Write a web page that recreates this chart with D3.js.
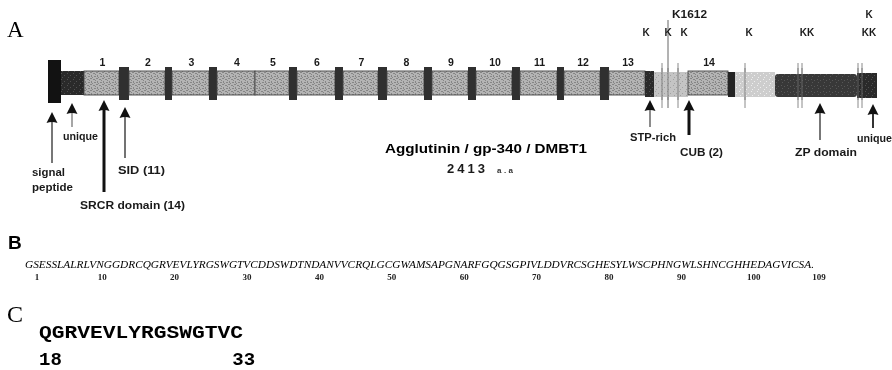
<!DOCTYPE html>
<html><head><meta charset="utf-8">
<script src="https://cdn.jsdelivr.net/npm/d3@7"></script>
<style>html,body{margin:0;background:#fff}svg{display:block;transform:translateZ(0)}</style>
</head><body>
<script>
// ---- Panel A: domain organisation along the drawn protein bar (track units) ----
const segTypes = ["signal","uniqueN","srcr","sid","srcr","sid","srcr","sid","srcr","srcr","sid",
  "srcr","sid","srcr","sid","srcr","sid","srcr","sid","srcr","sid","srcr","sid","srcr","sid","srcr",
  "stp","cub","srcr","linker","cub","zp","uniqueC"];
const segLengths = [13,23,35,10,36,7,37,8,38,34,8,38,8,35,9,37,8,36,8,36,8,37,7,36,9,36,
  9,34,40,7,40,82,20];

// Lysine sites (track units) and their labels
const siteLines = [614, 620, 630, 697, 750, 754, 810, 814];
const kLabelAt = [598, 620, 636, 701, 759, 821, 821];
const kLabelText = ["K","K","K","K","KK","KK","K"];
const namedSite = {at: 620, text: "K1612"};

// Arrow annotations under the bar
const arrowAt = [4, 24, 56, 77, 602, 641, 772, 825];
const arrowText = [["signal","peptide"],["unique"],["SRCR domain (14)"],["SID (11)"],
  ["STP-rich"],["CUB (2)"],["ZP domain"],["unique"]];

const proteinName = "Agglutinin / gp-340 / DMBT1";
const proteinLength = "2413";

// ---- Panel B: SRCR consensus sequence ----
const srcrSeq = "GSESSLALRLVNGGDRCQGRVEVLYRGSWGTVCDDSWDTNDANVVCRQLGCGWAMSAPGNARFGQGSGPIVLDDVRCSGHESYLWSCPHNGWLSHNCGHHEDAGVICSA.";
const seqTicks = [1,10,20,30,40,50,60,70,80,90,100,109];

// ---- Panel C: peptide ----
const peptide = "QGRVEVLYRGSWGTVC";
const peptideRange = [18, 33];

// ===== drawing =====
const W = 892, H = 370;
const svg = d3.select("body").append("svg").attr("width", W).attr("height", H)
  .style("font-family", "'Liberation Sans', Arial, sans-serif");

const defs = svg.append("defs");
function texture(id, base, dot, cells) {
  const p = defs.append("pattern").attr("id", id).attr("patternUnits", "userSpaceOnUse")
    .attr("width", 6).attr("height", 6);
  p.append("rect").attr("width", 6).attr("height", 6).attr("fill", base);
  cells.forEach(c => p.append("rect").attr("x", c[0]).attr("y", c[1])
    .attr("width", c[2]).attr("height", c[3]).attr("fill", dot));
}
texture("tSrcr", "#b4b4b4", "#868686", [[0,0,2,1],[3,1,2,1],[1,3,1,2],[4,4,2,1],[2,5,1,1],[5,2,1,1]]);
texture("tCub", "#c4c4c4", "#a2a2a2", [[1,1,1,1],[4,3,1,1],[2,5,1,1]]);
texture("tCub2", "#cdcdcd", "#eeeeee", [[1,1,1,1],[4,3,1,1],[2,5,1,1]]);
texture("tZp", "#383838", "#575757", [[1,1,1,1],[4,2,1,1],[2,4,1,1]]);
texture("tDark", "#2a2a2a", "#505050", [[1,1,1,1],[4,3,1,1],[2,5,1,1]]);

const segStart = d3.cumsum([0, ...segLengths]);
const total = segStart[segStart.length - 1];
const x = d3.scaleLinear().domain([0, total]).range([48, 877]);

const box = {signal:[60,103], uniqueN:[71,95], srcr:[71,95], sid:[67,100], stp:[71,97],
  cub:[72,97], linker:[72,97], zp:[74,97], uniqueC:[73,98]};
const fill = {signal:"#121212", uniqueN:"url(#tDark)", srcr:"url(#tSrcr)", sid:"#303030",
  stp:"url(#tDark)", cub:"url(#tCub)", linker:"#242424", zp:"url(#tZp)", uniqueC:"url(#tDark)"};

// panel letters
svg.append("text").attr("x", 7).attr("y", 37).attr("font-family", "'Liberation Serif', serif")
  .attr("font-size", 23).text("A");
svg.append("text").attr("x", 8).attr("y", 249).attr("font-weight", "bold")
  .attr("font-size", 19).text("B");
svg.append("text").attr("x", 7).attr("y", 322).attr("font-family", "'Liberation Serif', serif")
  .attr("font-size", 24).text("C");

const segs = segTypes.map((t, i) => ({type: t, a: segStart[i], b: segStart[i + 1], idx: i}));
let cubSeen = 0;
segs.forEach(s => { if (s.type === "cub") { s.alt = cubSeen++ > 0; } });

// lysine site lines behind the bar
svg.append("g").selectAll("line").data(siteLines).join("line")
  .attr("x1", d => x(d)).attr("x2", d => x(d))
  .attr("y1", d => d === namedSite.at ? 20 : 63).attr("y2", 108)
  .attr("stroke", d => d === namedSite.at ? "#666" : "#8a8a8a").attr("stroke-width", 1);

// protein bar
svg.append("g").selectAll("rect").data(segs).join("rect")
  .attr("x", d => x(d.a)).attr("width", d => x(d.b) - x(d.a))
  .attr("y", d => box[d.type][0]).attr("height", d => box[d.type][1] - box[d.type][0])
  .attr("rx", d => d.type === "zp" ? 3 : 0)
  .attr("fill", d => d.type === "cub" && d.alt ? "url(#tCub2)" : fill[d.type])
  .attr("stroke", d => d.type === "srcr" ? "#444" : "none").attr("stroke-width", 0.9);

// site lines drawn over the light regions as well
svg.append("g").selectAll("line").data(siteLines).join("line")
  .attr("x1", d => x(d)).attr("x2", d => x(d)).attr("y1", 68).attr("y2", 100)
  .attr("stroke", "#707070").attr("stroke-width", 1).attr("opacity", 0.8);

// SRCR numbering
const srcrSegs = segs.filter(s => s.type === "srcr");
svg.append("g").selectAll("text").data(srcrSegs).join("text")
  .attr("x", d => x((d.a + d.b) / 2) + 1).attr("y", 66).attr("text-anchor", "middle")
  .attr("font-weight", "bold").attr("font-size", 10.5).attr("fill", "#1a1a1a")
  .text((d, i) => i + 1);

// K labels
const kRow = [32, 32, 32, 32, 32, 32, 14];
svg.append("g").selectAll("text").data(kLabelText).join("text")
  .attr("x", (d, i) => x(kLabelAt[i])).attr("y", (d, i) => kRow[i] + 4)
  .attr("text-anchor", "middle").attr("font-weight", "bold").attr("font-size", 10)
  .attr("fill", "#1a1a1a").text(d => d);
svg.append("text").attr("x", x(namedSite.at) + 4).attr("y", 18)
  .attr("font-weight", "bold").attr("font-size", 10).attr("fill", "#1a1a1a")
  .attr("textLength", 35).attr("lengthAdjust", "spacingAndGlyphs").text(namedSite.text);

// arrows: head top, tail end, shaft width, shaft colour, label left, first baseline, label widths
const arrowLayout = [
  {top:112, tail:163, w:2, c:"#777", lx:32, ly:176, lw:[33,41]},
  {top:103, tail:127, w:1.5, c:"#888", lx:63, ly:140, lw:[35]},
  {top:100, tail:192, w:3, c:"#111", lx:80, ly:209, lw:[105]},
  {top:107, tail:158, w:1.5, c:"#444", lx:118, ly:174, lw:[47]},
  {top:100, tail:127, w:1.5, c:"#666", lx:630, ly:141, lw:[46]},
  {top:100, tail:135, w:3, c:"#111", lx:680, ly:156, lw:[43]},
  {top:103, tail:140, w:2, c:"#777", lx:795, ly:156, lw:[62]},
  {top:104, tail:128, w:2, c:"#333", lx:857, ly:142, lw:[35]}
];
const gA = svg.append("g").selectAll("g").data(arrowAt).join("g");
gA.append("line")
  .attr("x1", d => x(d)).attr("x2", d => x(d))
  .attr("y1", (d, i) => arrowLayout[i].top + 8).attr("y2", (d, i) => arrowLayout[i].tail)
  .attr("stroke", (d, i) => arrowLayout[i].c).attr("stroke-width", (d, i) => arrowLayout[i].w);
gA.append("path")
  .attr("d", (d, i) => {
    const cx = x(d), t = arrowLayout[i].top;
    return `M${cx},${t} L${cx + 5.5},${t + 11} Q${cx},${t + 9} ${cx - 5.5},${t + 11} Z`;
  })
  .attr("fill", "#111");
gA.each(function(d, i) {
  const L = arrowLayout[i];
  arrowText[i].forEach((line, j) => {
    d3.select(this).append("text").attr("x", L.lx).attr("y", L.ly + j * 15)
      .attr("font-weight", "bold").attr("font-size", 10).attr("fill", "#1a1a1a")
      .attr("textLength", L.lw[j]).attr("lengthAdjust", "spacingAndGlyphs").text(line);
  });
});

// protein name
svg.append("text").attr("x", 385).attr("y", 153).attr("font-weight", "bold").attr("font-size", 12.5)
  .attr("textLength", 202).attr("lengthAdjust", "spacingAndGlyphs").text(proteinName);
svg.append("text").attr("x", 447).attr("y", 173).attr("font-size", 13).attr("fill", "#1a1a1a")
  .attr("font-weight", "bold")
  .attr("textLength", 38).attr("lengthAdjust", "spacing").text(proteinLength);
svg.append("text").attr("x", 497).attr("y", 173).attr("font-size", 8).attr("font-weight", "bold")
  .attr("fill", "#333").attr("textLength", 16).attr("lengthAdjust", "spacing").text("a.a");

// ---- Panel B ----
svg.append("text").attr("x", 25).attr("y", 268)
  .attr("font-family", "'Liberation Serif', serif").attr("font-style", "italic")
  .attr("font-size", 9.5).attr("fill", "#000")
  .attr("textLength", 789).attr("lengthAdjust", "spacingAndGlyphs").text(srcrSeq);
const res = d3.scaleLinear().domain([1, 109]).range([37, 819]);
svg.append("g").selectAll("text").data(seqTicks).join("text")
  .attr("x", d => res(d)).attr("y", 280).attr("text-anchor", "middle")
  .attr("font-family", "'Liberation Serif', serif").attr("font-weight", "bold")
  .attr("font-size", 9).attr("fill", "#222").text(d => d);

// ---- Panel C ----
svg.append("text").attr("x", 39).attr("y", 338)
  .attr("font-family", "'Liberation Mono', 'Courier New', monospace").attr("font-weight", "bold")
  .attr("font-size", 19).attr("textLength", 204).attr("lengthAdjust", "spacingAndGlyphs")
  .text(peptide);
const pep = d3.scaleLinear().domain([peptideRange[0], peptideRange[1] + 1]).range([39, 243]);
svg.append("g").selectAll("text").data(peptideRange).join("text")
  .attr("x", d => pep(d) + (d === peptideRange[1] ? 2 : 0)).attr("y", 365)
  .attr("font-family", "'Liberation Mono', 'Courier New', monospace").attr("font-weight", "bold")
  .attr("font-size", 19).text(d => d);
</script>
</body></html>
